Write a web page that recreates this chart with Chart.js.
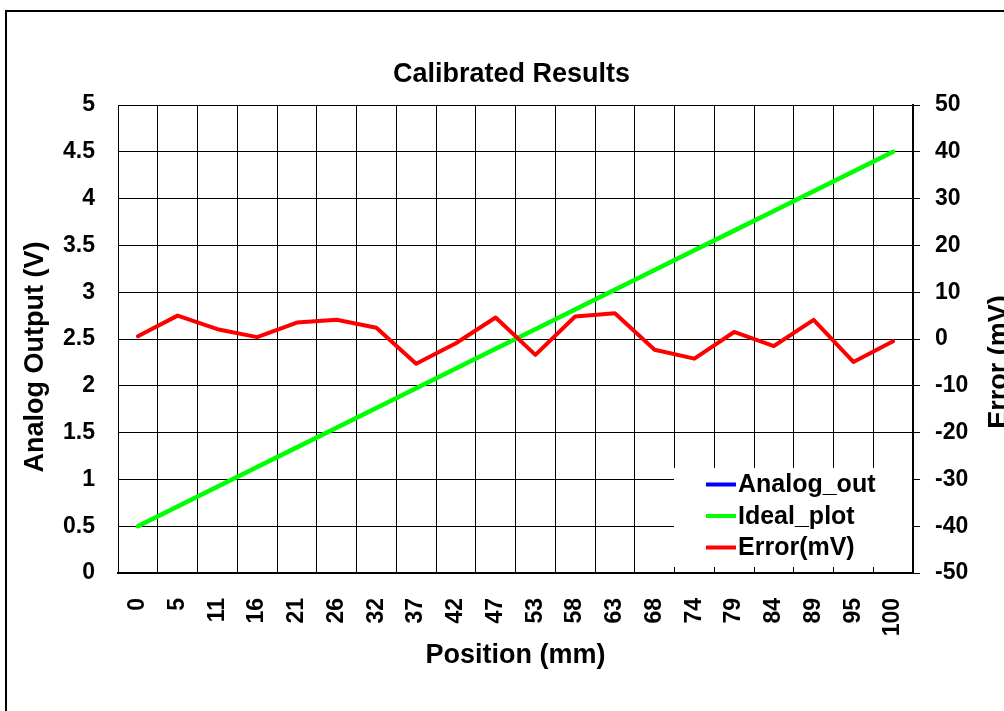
<!DOCTYPE html>
<html><head><meta charset="utf-8">
<script src="https://cdn.jsdelivr.net/npm/chart.js@4.4.1/dist/chart.umd.min.js"></script>
<style>html,body{margin:0;padding:0;background:#fff;overflow:hidden}canvas{display:block}</style>
</head><body>
<canvas id="c" width="1004" height="711"></canvas>
<script>
// ---- data ----
const positions = ['0','5','11','16','21','26','32','37','42','47','53','58','63','68','74','79','84','89','95','100'];
const analogOut = [0.5006,0.7155,0.9232,1.1320,1.3456,1.5567,1.7656,1.9684,2.1833,2.3993,2.6019,2.8206,3.0318,3.2345,3.4432,3.6594,3.8669,4.0830,4.2846,4.4995];
const idealPlot = [0.5000,0.7105,0.9211,1.1316,1.3421,1.5526,1.7632,1.9737,2.1842,2.3947,2.6053,2.8158,3.0263,3.2368,3.4474,3.6579,3.8684,4.0789,4.2895,4.5000];
const errorMv   = [0.6,5.0,2.1,0.4,3.5,4.1,2.4,-5.3,-0.9,4.6,-3.4,4.8,5.5,-2.3,-4.2,1.5,-1.5,4.1,-4.9,-0.5];
const leftTickLabels  = ['0','0.5','1','1.5','2','2.5','3','3.5','4','4.5','5'];
const rightTickLabels = ['-50','-40','-30','-20','-10','0','10','20','30','40','50'];
const seriesNames = ['Analog_out','Ideal_plot','Error(mV)'];
const seriesColors = ['#0000FF','#00FF00','#FF0000'];

const FONT = '"Liberation Sans", Arial, Helvetica, sans-serif';
const tickFont = {family: FONT, size: 23, weight: 'bold'};

const framePlugin = {
  id: 'frame',
  beforeDraw(chart) {
    const c = chart.ctx;
    c.save();
    c.fillStyle = '#fff';
    c.fillRect(0, 0, chart.width, chart.height);
    c.strokeStyle = '#000';
    c.lineWidth = 2;
    c.strokeRect(6, 11, 1200, 900);
    c.restore();
  }
};

const legendPlugin = {
  id: 'boxLegend',
  afterDatasetsDraw(chart) {
    const c = chart.ctx, a = chart.chartArea;
    const x0 = a.right - 239, y0 = a.bottom - 105;
    c.save();
    c.fillStyle = '#fff';
    c.fillRect(x0, y0, a.right - 1 - x0, 99);
    const ys = [y0 + 16.5, y0 + 48, y0 + 79.5];
    c.font = 'bold 25px ' + FONT;
    c.textBaseline = 'middle';
    c.textAlign = 'left';
    chart.data.datasets.forEach((ds, i) => {
      c.strokeStyle = ds.borderColor;
      c.lineWidth = 4;
      c.beginPath();
      c.moveTo(x0 + 32, ys[i]);
      c.lineTo(x0 + 62, ys[i]);
      c.stroke();
      c.fillStyle = '#000';
      c.fillText(ds.label, x0 + 64, ys[i] + 1);
    });
    c.restore();
  }
};

const axisTitlePlugin = {
  id: 'axisTitles',
  afterDraw(chart) {
    const c = chart.ctx;
    c.save();
    c.fillStyle = '#000';
    c.font = 'bold 27px ' + FONT;
    c.textAlign = 'center';
    c.textBaseline = 'alphabetic';
    c.translate(43, 357);
    c.rotate(-Math.PI / 2);
    c.fillText('Analog Output (V)', 0, 0);
    c.restore();
    c.save();
    c.fillStyle = '#000';
    c.font = 'bold 27px ' + FONT;
    c.textAlign = 'center';
    c.textBaseline = 'alphabetic';
    c.translate(1007, 362);
    c.rotate(-Math.PI / 2);
    c.fillText('Error (mV)', 0, 0);
    c.restore();
  }
};

new Chart(document.getElementById('c'), {
  type: 'line',
  data: {
    labels: positions,
    datasets: [
      {label: seriesNames[0], data: analogOut, borderColor: seriesColors[0], backgroundColor: seriesColors[0], borderWidth: 3, yAxisID: 'y', order: 3},
      {label: seriesNames[1], data: idealPlot, borderColor: seriesColors[1], backgroundColor: seriesColors[1], borderWidth: 4.5, yAxisID: 'y', order: 2},
      {label: seriesNames[2], data: errorMv, borderColor: seriesColors[2], backgroundColor: seriesColors[2], borderWidth: 4, yAxisID: 'y2', order: 1}
    ]
  },
  options: {
    responsive: false,
    animation: false,
    devicePixelRatio: 1,
    layout: {padding: {left: 19, right: 0, top: 0, bottom: 0}},
    elements: {
      point: {radius: 0, hoverRadius: 0},
      line: {tension: 0, borderJoinStyle: 'round', borderCapStyle: 'round', fill: false}
    },
    plugins: {
      legend: {display: false},
      tooltip: {enabled: false},
      title: {
        display: true, text: 'Calibrated Results', color: '#000',
        font: {family: FONT, size: 27, weight: 'bold', lineHeight: 1.2},
        padding: {top: 58, bottom: 14.6}
      }
    },
    scales: {
      x: {
        type: 'category',
        offset: true,
        grid: {color: '#000', lineWidth: 1, offset: true, drawTicks: false},
        border: {color: '#000', width: 2},
        ticks: {color: '#000', font: tickFont, minRotation: 90, maxRotation: 90, padding: 25, autoSkip: false},
        title: {display: true, text: 'Position (mm)', color: '#000', font: {family: FONT, size: 27, weight: 'bold', lineHeight: 1.2}, padding: {top: 0, bottom: 39}},
        afterFit(s) { s.height = 138; }
      },
      y: {
        position: 'left',
        min: 0, max: 5,
        ticks: {stepSize: 0.5, color: '#000', font: tickFont, padding: 23, callback: (v, i) => leftTickLabels[i]},
        grid: {color: '#000', lineWidth: 1, drawTicks: false},
        border: {color: '#000', width: 1},
        afterFit(s) { s.width = 99; }
      },
      y2: {
        position: 'right',
        min: -50, max: 50,
        ticks: {stepSize: 10, color: '#000', font: tickFont, padding: 15, callback: (v, i) => rightTickLabels[i]},
        grid: {drawOnChartArea: false, drawTicks: true, tickLength: 7, color: '#000', lineWidth: 1},
        border: {color: '#000', width: 2},
        afterFit(s) { s.width = 91; }
      }
    }
  },
  plugins: [framePlugin, legendPlugin, axisTitlePlugin]
});
</script>
</body></html>
